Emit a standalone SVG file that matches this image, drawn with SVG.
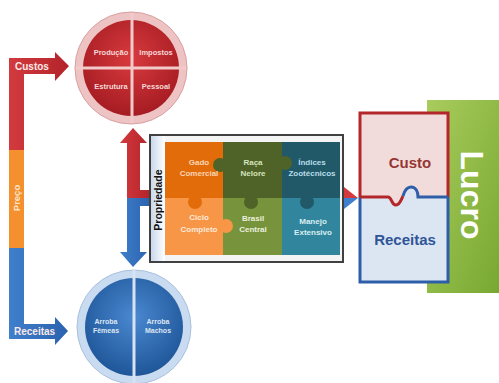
<svg xmlns="http://www.w3.org/2000/svg" width="499" height="383" viewBox="0 0 499 383">
<defs>
<style>
text{font-family:"Liberation Sans",Arial,sans-serif}
.cl{font-size:7.5px;font-weight:bold;fill:#F6D8D8;text-anchor:middle}
.bl{font-size:7px;font-weight:bold;fill:#DCE6F2;text-anchor:middle}
.tl{font-size:8px;font-weight:bold;text-anchor:middle}
.bar{font-size:10px;font-weight:bold;fill:#FBE9E9}
</style>
<radialGradient id="gr" cx="0.5" cy="0.4" r="0.6"><stop offset="0" stop-color="#D83A3E"/><stop offset="1" stop-color="#A51C22"/></radialGradient>
<radialGradient id="gb" cx="0.5" cy="0.4" r="0.6"><stop offset="0" stop-color="#4A88D0"/><stop offset="1" stop-color="#1F5699"/></radialGradient>
<linearGradient id="gs" x1="0" y1="0" x2="1" y2="0"><stop offset="0" stop-color="#C9D8EC"/><stop offset="1" stop-color="#FFFFFF"/></linearGradient>
<linearGradient id="gl" x1="0" y1="0" x2="1" y2="1"><stop offset="0" stop-color="#A9CC5C"/><stop offset="1" stop-color="#78A832"/></linearGradient>
<linearGradient id="rb" x1="0" y1="0" x2="1" y2="0"><stop offset="0" stop-color="#D23A3E"/><stop offset="1" stop-color="#B3232A"/></linearGradient>
<linearGradient id="bb" x1="0" y1="0" x2="1" y2="0"><stop offset="0" stop-color="#3F7FCB"/><stop offset="1" stop-color="#2A62AE"/></linearGradient>
</defs>

<g id="connectors">
<path d="M9,150 V58 H55 V52 L69,66 L55,81 V74 H24 V150 Z" fill="url(#rb)"/>
<rect x="9" y="150" width="15" height="98" fill="#F4912E"/>
<path d="M9,248 V339 H55 V345 L68,331 L55,317 V324 H24 V248 Z" fill="url(#bb)"/>
<path d="M127,198 V143 H120 L133,128 L147,143 H140 V190 H150 V198 Z" fill="url(#rb)"/>
<path d="M127,198 V252 H120 L133,267 L147,252 H140 V206 H150 V198 Z" fill="url(#bb)"/>
<path d="M344,187 L358,198 L344,198 Z" fill="#D23A3E"/>
<path d="M344,198 L358,198 L344,209 Z" fill="#3F7FCB"/>
</g>

<g id="custos-label"><text class="bar" x="15" y="70">Custos</text></g>
<g id="receitas-label"><text class="bar" x="14" y="335">Receitas</text></g>
<g id="preco-label"><text x="16" y="201.5" transform="rotate(-90 16 198)" font-size="9.5" font-weight="bold" fill="#FCE4CC" text-anchor="middle">Preço</text></g>

<g id="custos-circle">
<circle cx="131" cy="68" r="56" fill="#EEC3C3" stroke="#D9A0A0" stroke-width="1"/>
<circle cx="131" cy="68" r="48" fill="url(#gr)"/>
<line x1="132" y1="13" x2="132" y2="123" stroke="#F2CACA" stroke-width="3"/>
<line x1="76" y1="68" x2="186" y2="68" stroke="#F2CACA" stroke-width="3"/>
<text class="cl" x="111" y="55">Produção</text>
<text class="cl" x="156" y="55">Impostos</text>
<text class="cl" x="111" y="89">Estrutura</text>
<text class="cl" x="156" y="89">Pessoal</text>
</g>

<g id="receitas-circle">
<circle cx="134" cy="327" r="57" fill="#C9DBF0" stroke="#A9C0DD" stroke-width="1"/>
<circle cx="134" cy="327" r="49" fill="url(#gb)"/>
<line x1="134" y1="270" x2="134" y2="384" stroke="#D5E3F3" stroke-width="3"/>
<text class="bl" x="106" y="324">Arroba</text>
<text class="bl" x="106" y="333">Fêmeas</text>
<text class="bl" x="158" y="324">Arroba</text>
<text class="bl" x="158" y="333">Machos</text>
</g>

<g id="propriedade">
<rect x="150" y="135" width="193" height="127" fill="#F4F4F4" stroke="#404040" stroke-width="2"/>
<rect x="151" y="136" width="14" height="125" fill="url(#gs)"/>
<text x="158" y="203.8" transform="rotate(-90 158 200)" font-size="10.5" font-weight="bold" fill="#111" text-anchor="middle">Propriedade</text>
<rect x="165" y="142" width="58" height="56" fill="#E36C0A"/>
<rect x="223" y="142" width="59" height="56" fill="#4F6228"/>
<rect x="282" y="142" width="58" height="56" fill="#215968"/>
<rect x="165" y="198" width="58" height="57" fill="#F79646"/>
<rect x="223" y="198" width="59" height="57" fill="#77933C"/>
<rect x="282" y="198" width="58" height="57" fill="#31859C"/>
<circle cx="220" cy="165" r="7" fill="#4F6228"/>
<circle cx="285" cy="163" r="7" fill="#4F6228"/>
<circle cx="195" cy="202" r="7" fill="#E36C0A"/>
<circle cx="251" cy="202" r="7" fill="#4F6228"/>
<circle cx="307" cy="202" r="7" fill="#215968"/>
<circle cx="226" cy="226" r="7" fill="#F79646"/>
<text class="tl" fill="#FBD5B5" x="199" y="165">Gado</text>
<text class="tl" fill="#FBD5B5" x="199" y="176">Comercial</text>
<text class="tl" fill="#D7E4BD" x="253" y="165">Raça</text>
<text class="tl" fill="#D7E4BD" x="253" y="176">Nelore</text>
<text class="tl" fill="#B7DEE8" x="312" y="165">Índices</text>
<text class="tl" fill="#B7DEE8" x="312" y="176">Zootécnicos</text>
<text class="tl" fill="#FDE9D9" x="199" y="220">Ciclo</text>
<text class="tl" fill="#FDE9D9" x="199" y="232">Completo</text>
<text class="tl" fill="#EBF1DE" x="253" y="221">Brasil</text>
<text class="tl" fill="#EBF1DE" x="253" y="232">Central</text>
<text class="tl" fill="#DAEEF3" x="313" y="224">Manejo</text>
<text class="tl" fill="#DAEEF3" x="313" y="235">Extensivo</text>
</g>

<g id="lucro">
<rect x="427" y="100" width="72" height="193" fill="url(#gl)"/>
<text x="472" y="206" transform="rotate(90 472 195)" font-size="32" font-weight="bold" fill="#FFFFFF" text-anchor="middle">Lucro</text>
</g>

<g id="resultado">
<path d="M360,113 H448 V197 H418 C418,192 416,187 411,187 C408,187 405,189 403,196 C401,200 400,205 396,205 C391,205 392,197 388,197 H360 Z" fill="#F2DCDB"/>
<path d="M360,282 H448 V197 H418 C418,192 416,187 411,187 C408,187 405,189 403,196 C401,200 400,205 396,205 C391,205 392,197 388,197 H360 Z" fill="#DCE6F2"/>
<path d="M360,197 V113 H448 V197" fill="none" stroke="#B3272B" stroke-width="3"/>
<path d="M360,197 V282 H448 V197" fill="none" stroke="#2E5EA8" stroke-width="3"/>
<path d="M360,197 H388 C392,197 391,205 396,205 C400,205 401,200 403,196" fill="none" stroke="#B3272B" stroke-width="3"/>
<path d="M403,196 C405,189 408,187 411,187 C416,187 418,192 418,197 H448" fill="none" stroke="#2E5EA8" stroke-width="3"/>
<text x="410" y="168" font-size="15" font-weight="bold" fill="#953735" text-anchor="middle">Custo</text>
<text x="405" y="245" font-size="15" font-weight="bold" fill="#2F5597" text-anchor="middle">Receitas</text>
</g>
</svg>
